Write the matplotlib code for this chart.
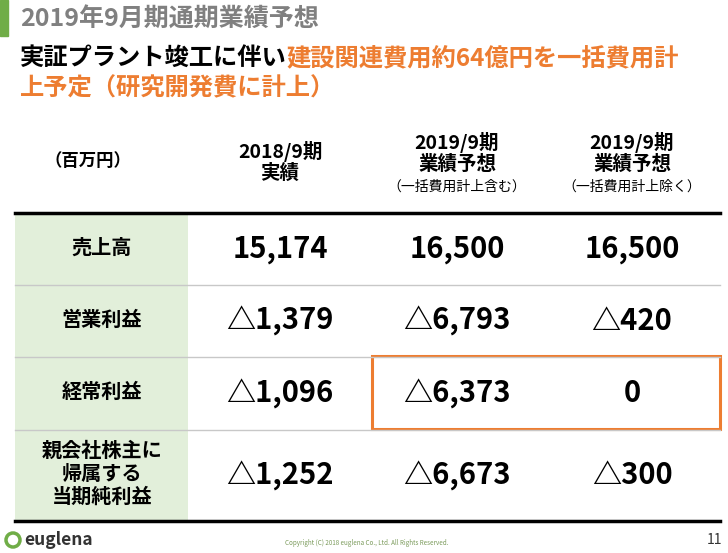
import matplotlib.pyplot as plt
from matplotlib.patches import Rectangle, Circle

plt.rcParams['font.family'] = ['Noto Sans CJK JP', 'DejaVu Sans']

# table data
unit_label = "（百万円）"
col_titles = ["2018/9期\n実績", "2019/9期\n業績予想", "2019/9期\n業績予想"]
col_notes = ["", "（一括費用計上含む）", "（一括費用計上除く）"]
row_labels = ["売上高", "営業利益", "経常利益", "親会社株主に\n帰属する\n当期純利益"]
values_2018 = ["15,174", "△1,379", "△1,096", "△1,252"]
values_2019_incl = ["16,500", "△6,793", "△6,373", "△6,673"]
values_2019_excl = ["16,500", "△420", "0", "△300"]

GREEN = "#70AD47"
LIGHT_GREEN = "#E2EFDA"
ORANGE = "#ED7D31"

fig = plt.figure(figsize=(7.28, 5.53), dpi=100)
ax = fig.add_axes([0, 0, 1, 1])
ax.set_xlim(0, 728)
ax.set_ylim(553, 0)
ax.axis("off")

# header
ax.add_patch(Rectangle((0, 0), 8, 36, color=GREEN))
ax.text(20, 19, "2019年9月期通期業績予想", fontsize=18, fontweight="bold",
        color="#808080", va="center")
t = ax.text(20, 58, "実証プラント竣工に伴い", fontsize=17.5, fontweight="bold",
            color="black", va="center")
fig.canvas.draw()
bb = t.get_window_extent().transformed(ax.transData.inverted())
ax.text(bb.x1, 58, "建設関連費用約64億円を一括費用計", fontsize=17.5,
        fontweight="bold", color=ORANGE, va="center")
ax.text(20, 88, "上予定（研究開発費に計上）", fontsize=17.5, fontweight="bold",
        color=ORANGE, va="center")

# table geometry
left, right = 15, 720
label_right = 188
col_x = [280, 457, 632]
row_edges = [213, 285, 357, 430, 521]

ax.add_patch(Rectangle((left, row_edges[0]), label_right - left,
                       row_edges[-1] - row_edges[0], color=LIGHT_GREEN, lw=0))
for y in row_edges[1:-1]:
    ax.plot([left, right], [y, y], color="#c8c8c8", lw=1)
ax.plot([left, right], [row_edges[0], row_edges[0]], color="black", lw=2.5)
ax.plot([left, right], [row_edges[-1], row_edges[-1]], color="black", lw=2.5)

# column headers
ax.text(88, 161, unit_label, fontsize=12.5, fontweight="bold", ha="center", va="center")
for x, title, note in zip(col_x, col_titles, col_notes):
    ty = 162 if not note else 153
    ax.text(x, ty, title, fontsize=14, fontweight="bold", ha="center", va="center",
            linespacing=1.1)
    if note:
        ax.text(x, 187, note, fontsize=10, ha="center", va="center")

# rows
columns = [values_2018, values_2019_incl, values_2019_excl]
for i, label in enumerate(row_labels):
    yc = (row_edges[i] + row_edges[i + 1]) / 2 - 2
    ax.text(102, yc, label, fontsize=14.5, fontweight="bold", ha="center", va="center",
            linespacing=1.1)
    for x, vals in zip(col_x, columns):
        ax.text(x, yc + 2, vals[i], fontsize=21, fontweight="bold", ha="center",
                va="center")

# highlight box
ax.add_patch(Rectangle((372, 356), 348, 73, fill=False, edgecolor=ORANGE, lw=2.2))

# footer
ax.add_patch(Circle((13, 540), 7, fill=False, edgecolor=GREEN, lw=2.5))
ax.text(24, 540, "euglena", fontsize=12.5, fontweight="bold", color="#333333",
        va="center")
ax.text(367, 543, "Copyright (C) 2018 euglena Co., Ltd. All Rights Reserved.",
        fontsize=4.5, color="#7a9a5a", ha="center", va="center")
ax.text(722, 540, "11", fontsize=10, color="#333333", ha="right", va="center")

fig.savefig("out.png", dpi=100)
